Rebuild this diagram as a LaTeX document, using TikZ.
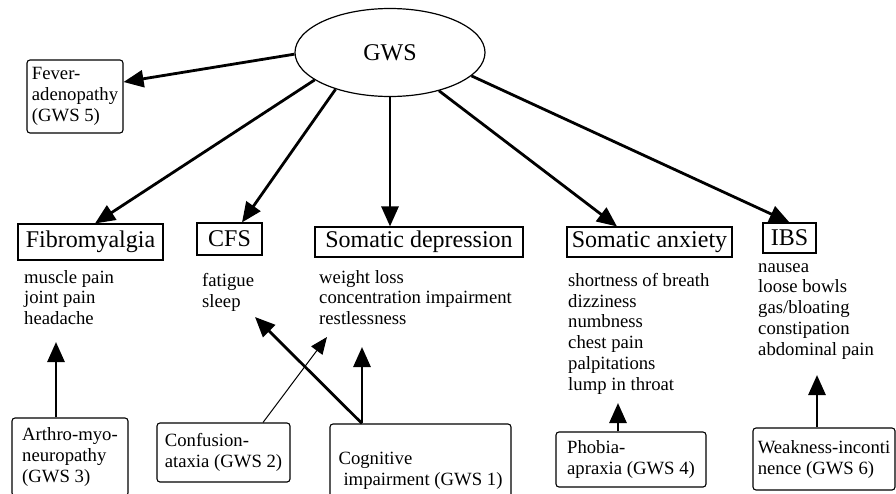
\documentclass[tikz,border=0pt]{standalone}
\usepackage{fontspec}
\setmainfont{Liberation Serif}
\usetikzlibrary{arrows.meta,positioning,shapes.geometric,calc}
\tikzset{
  hub/.style={draw,ellipse,line width=1.2pt,minimum width=190pt,minimum height=88pt,
    inner sep=0pt,font=\fontsize{24}{28}\selectfont},
  catbox/.style={draw,line width=1.1pt,inner sep=0pt,minimum height=32pt,
    font=\fontsize{24}{28}\selectfont},
  gwsbox/.style={draw,line width=1.1pt,rounded corners=3pt,inner sep=0pt,align=left,
    font=\fontsize{18.7}{21}\selectfont},
  symlist/.style={inner sep=0pt,align=left,anchor=north west,font=\fontsize{18.7}{20.8}\selectfont},
  mainarrow/.style={-{Triangle[length=20pt,width=17pt]},line width=2.8pt},
  thinarrow/.style={-{Triangle[length=17pt,width=14pt]},line width=1pt}
}
\begin{document}
\begin{tikzpicture}[x=1pt,y=-1pt]
  \useasboundingbox (0,0) rectangle (896,493);
  \clip (0,0) rectangle (896,493);

  % top
  \node[hub] (gws) at (390,52.5) {GWS};
  \node[gwsbox,minimum width=96pt,minimum height=73pt] (fever) at (75,96.5) {Fever-\\adenopathy\\(GWS 5)};

  % syndromes
  \node[catbox,minimum width=145pt,minimum height=36pt] (fib) at (90.5,242) {Fibromyalgia};
  \node[catbox,minimum width=65pt] (cfs) at (229.5,239) {CFS};
  \node[catbox,minimum width=208pt,minimum height=30pt] (sdep) at (419,242) {Somatic depression};
  \node[catbox,minimum width=165pt,minimum height=30pt] (sanx) at (649.5,242) {Somatic anxiety};
  \node[catbox,minimum width=53pt,minimum height=30pt] (ibs) at (789.5,238) {IBS};

  % symptoms
  \node[symlist] (fiblist) at (24,270) {muscle pain\\joint pain\\headache};
  \node[symlist] (cfslist) at (202,273) {fatigue\\sleep};
  \node[symlist] (sdeplist) at (319,270) {weight loss\\concentration impairment\\restlessness};
  \node[symlist] (sanxlist) at (568,273) {shortness of breath\\dizziness\\numbness\\chest pain\\palpitations\\lump in throat};
  \node[symlist] (ibslist) at (758,263) {nausea\\loose bowls\\gas/bloating\\constipation\\abdominal pain};

  % factors
  \node[gwsbox,minimum width=116pt,minimum height=78pt] (arthro) at (70,457) {Arthro-myo-\\neuropathy\\(GWS 3)};
  \node[gwsbox,minimum width=133pt,minimum height=59pt] (conf) at (223.5,452.5) {Confusion-\\ataxia (GWS 2)};
  \node[gwsbox,minimum width=181pt,minimum height=94pt] (cog) at (420.5,471) {Cognitive\\\hspace*{5pt}impairment (GWS 1)};
  \node[gwsbox,minimum width=150pt,minimum height=55pt] (phob) at (631,459.5) {Phobia-\\apraxia (GWS 4)};
  \node[gwsbox,minimum width=142pt,minimum height=62pt] (weak) at (824,459) {Weakness-inconti\\nence (GWS 6)};

  \coordinate (fibtip) at (56,342);
  \coordinate (sdeptipa) at (327,337);
  \coordinate (cfstip) at (255,317);
  \coordinate (sdeptipb) at (362,347);
  \coordinate (sanxtip) at (618,403);
  \coordinate (ibstip) at (817,375);

  \draw[mainarrow] (gws.181) -- ([yshift=14.5pt]fever.east);
  \draw[mainarrow] (gws.200) -- ([xshift=4.5pt]fib.north);
  \draw[mainarrow] (gws.214) -- ([xshift=12.5pt]cfs.north);
  \draw[mainarrow] (gws.south) -- (gws.south |- sdep.north);
  \draw[mainarrow] (gws.322) -- ([xshift=-32.5pt]sanx.north);
  \draw[mainarrow] (gws.344) -- (ibs.north);

  \draw[mainarrow] (arthro.north -| fibtip) -- (fibtip);
  \draw[thinarrow] ([xshift=39.5pt]conf.north) -- (sdeptipa);
  \draw[mainarrow] (cog.north -| sdeptipb) -- (cfstip);
  \draw[mainarrow] (cog.north -| sdeptipb) -- (sdeptipb);
  \draw[mainarrow] (phob.north -| sanxtip) -- (sanxtip);
  \draw[mainarrow] (weak.north -| ibstip) -- (ibstip);
\end{tikzpicture}
\end{document}
